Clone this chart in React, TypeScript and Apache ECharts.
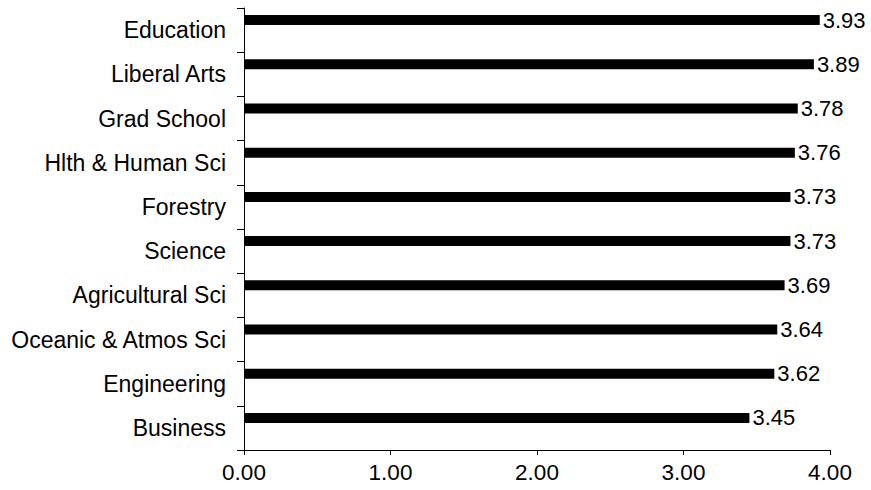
import React, { useEffect, useRef } from "react";
import * as echarts from "echarts";

const categories = [
  "Education",
  "Liberal Arts",
  "Grad School",
  "Hlth & Human Sci",
  "Forestry",
  "Science",
  "Agricultural Sci",
  "Oceanic & Atmos Sci",
  "Engineering",
  "Business",
];
const values = [3.93, 3.89, 3.78, 3.76, 3.73, 3.73, 3.69, 3.64, 3.62, 3.45];
const xTicks = [0, 1, 2, 3, 4];

export default function App() {
  const ref = useRef<HTMLDivElement>(null);
  useEffect(() => {
    if (!ref.current) return;
    const chart = echarts.init(ref.current, null, { renderer: "svg" });
    const font = "Liberation Sans, Arial, sans-serif";
    chart.setOption({
      animation: false,
      backgroundColor: "#ffffff",
      grid: { left: 244, right: 41, top: 8, bottom: 40, containLabel: false },
      xAxis: {
        type: "value",
        min: xTicks[0],
        max: xTicks[xTicks.length - 1],
        interval: 1,
        splitLine: { show: false },
        axisLine: { show: true, lineStyle: { color: "#000", width: 1 } },
        axisTick: { show: true, length: 5, lineStyle: { color: "#000" } },
        axisLabel: {
          color: "#000",
          fontSize: 22.5,
          fontFamily: font,
          margin: 11,
          formatter: (v: number) => v.toFixed(2),
        },
      },
      yAxis: {
        type: "category",
        inverse: true,
        data: categories,
        axisLine: { show: true, lineStyle: { color: "#000", width: 1 } },
        axisTick: { show: true, length: 7, alignWithLabel: false, lineStyle: { color: "#000" } },
        axisLabel: { color: "#000", fontSize: 23, fontFamily: font, margin: 18 },
      },
      series: [
        {
          type: "bar",
          data: values,
          barWidth: 10,
          barGap: "100%",
          itemStyle: { color: "#000" },
          label: {
            show: true,
            position: "right",
            distance: 3,
            color: "#000",
            fontSize: 22,
            fontFamily: font,
            formatter: (p: any) => Number(p.value).toFixed(2),
          },
        },
        {
          type: "bar",
          data: values.map(() => "-"),
          barWidth: 10,
          barGap: "100%",
          itemStyle: { color: "#000" },
        },
      ],
    });
    return () => chart.dispose();
  }, []);
  return (
    <div
      ref={ref}
      style={{ position: "absolute", left: 0, top: 0, width: 871, height: 490 }}
    />
  );
}
